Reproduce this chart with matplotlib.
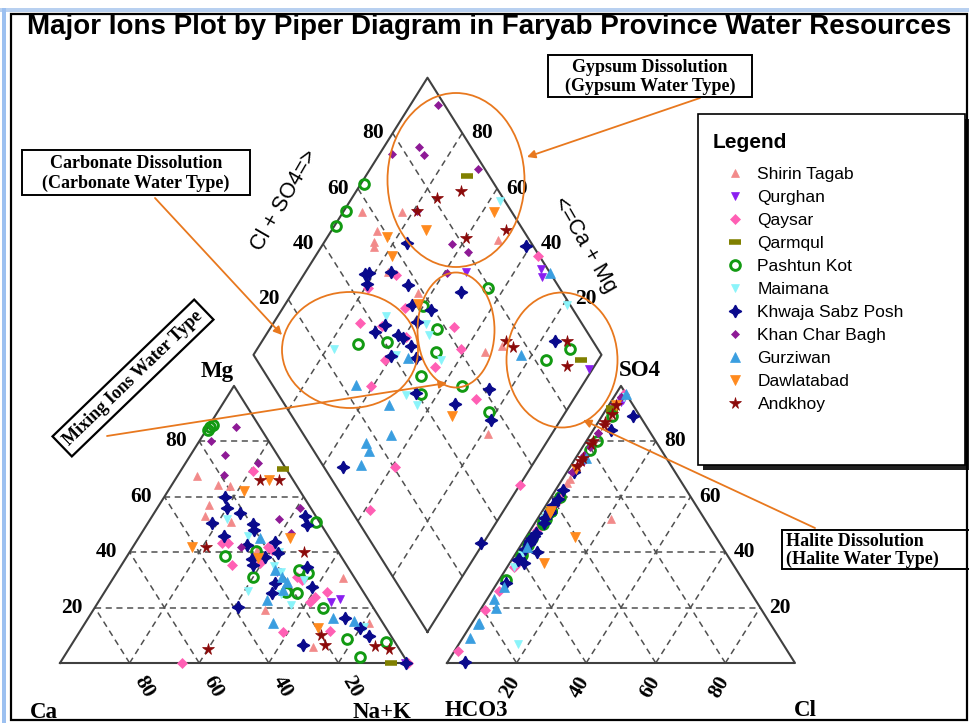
import matplotlib
matplotlib.use("Agg")
import matplotlib.pyplot as plt
import matplotlib.transforms as mtransforms
from matplotlib.patches import Ellipse, Rectangle
import numpy as np

# samples per site: (Mg, Na+K, SO4, Cl) in meq %, Ca and HCO3 are the rest
SHIRIN_TAGAB = [(67.5, 5.6, 55, 2), (64.3, 13.2, 56, 2), (63.9, 16.9, 66.5, 2), (57, 14.3, 53, 2),
                (53.1, 15.1, 52, 2), (50.9, 23.7, 51.5, 2), (40.8, 36.2, 56.5, 2), (19.1, 49.4, 89, 2),
                (30.7, 66, 65, 2), (14.4, 81.6, 51, 2), (5.8, 69.8, 52, 21)]
QURGHAN = [(33, 46, 73, 3), (22, 67, 95, 3), (23, 69, 94, 3), (0, 99, 92, 2)]
QAYSAR = [(69.3, 20.8, 43, 2), (43.3, 24.9, 34.5, 2), (43.3, 26.6, 53.5, 2), (35.4, 31.7, 40, 2),
          (0, 35.1, 50, 2), (41.9, 38.8, 35, 2), (36.1, 39.4, 26, 2), (40.8, 40.5, 45, 2),
          (31, 52.6, 60, 2.5), (30, 54.5, 48, 2), (11.2, 58.5, 58, 2.5), (22, 60.8, 19, 1.5),
          (23.8, 61.4, 4.5, 1), (25.6, 63.9, 97, 2.5), (11.6, 71.8, 54, 2), (0, 100, 51, 2)]
QARMQUL = [(70, 29, 92, 1.5), (0, 95, 91, 2)]
PASHTUN_KOT = [(86, 1, 60, 2.5), (84, 0.5, 50, 2.5), (85, 0.5, 45, 2), (51, 48, 55, 2.5),
               (38.6, 28, 30, 2), (40.4, 36, 38.5, 2), (31, 40, 55, 2.5), (33.6, 52, 51, 2),
               (32.5, 55, 39, 2), (25.6, 52, 42.5, 2), (25.3, 55.5, 77, 2.5), (20, 65.6, 52, 2.5),
               (8.7, 78, 55, 2.5), (7.6, 90, 89, 3), (2.2, 85, 80, 3)]
MAIMANA = [(40, 43, 96, 2.5), (13, 81, 96, 3), (46, 31, 43, 2), (35, 44, 53, 2), (33, 47, 52, 2),
           (26, 41, 39, 2), (30, 55, 51, 2), (52, 22, 7, 17), (25, 51, 34.5, 2), (21, 56, 36, 2)]
KHWAJA_SABZ_POSH = [(60, 17.5, 44.5, 2), (50.5, 18.5, 46, 2), (56, 20, 43.5, 2), (46, 24, 62.5, 2),
                    (54, 24.6, 52.5, 2), (50, 30.6, 37, 2), (48, 31.7, 55, 2), (42.6, 32.4, 41, 2),
                    (37.5, 36.4, 52.5, 2), (35.4, 37.8, 43, 2), (38.3, 39.8, 37.5, 2), (43.7, 39.9, 44, 2),
                    (20.2, 41, 50.5, 2.5), (39.7, 42.8, 57, 2), (53, 43.8, 45, 2), (49.8, 46.1, 0.5, 5),
                    (28.9, 47.3, 40, 6), (25.3, 48.3, 69, 2), (34.7, 53.6, 36, 4), (27.4, 58.7, 89, 9),
                    (6.5, 66.6, 47, 2), (16.2, 73.8, 59, 2.5), (12.6, 80, 54, 2.5), (9.7, 84, 84, 5),
                    (0, 99.5, 29, 2.5)]
KHAN_CHAR_BAGH = [(85, 8, 96, 2), (80, 3.5, 74, 2), (75, 10, 83, 2), (68, 13, 83, 2), (72, 21, 71, 2),
                  (42, 31, 96, 2), (52, 37, 75, 2), (47, 43, 78, 2), (56, 41, 69, 1.5)]
GURZIWAN = [(45.1, 35, 20, 4), (33.6, 45, 42, 2), (31, 48.3, 14.5, 2), (29.2, 50.6, 14, 2),
            (26.4, 50.9, 9, 2), (22.7, 48.1, 27.5, 2.5), (14.4, 54, 23, 2), (16.2, 70.3, 97, 3),
            (15.2, 76.9, 74, 3)]
DAWLATABAD = [(45, 43.5, 93, 2), (66, 27, 70, 2), (42, 17, 45.5, 14), (62, 22, 55, 2.5),
              (38, 38, 54, 2.5), (12.5, 68, 36, 10)]
ANDKHOY = [(66, 24.5, 79, 2), (66, 30, 87, 2), (42, 21, 71, 2), (40, 50, 93, 2), (5, 40, 80, 2),
           (10, 70, 73, 2), (6.5, 73, 74, 2), (6, 87.5, 90, 2.5), (5, 92, 86, 2)]

SITE_NAMES = ["Shirin Tagab", "Qurghan", "Qaysar", "Qarmqul", "Pashtun Kot", "Maimana",
              "Khwaja Sabz Posh", "Khan Char Bagh", "Gurziwan", "Dawlatabad", "Andkhoy"]
SITE_DATA = [SHIRIN_TAGAB, QURGHAN, QAYSAR, QARMQUL, PASHTUN_KOT, MAIMANA,
             KHWAJA_SABZ_POSH, KHAN_CHAR_BAGH, GURZIWAN, DAWLATABAD, ANDKHOY]
TICKS = [20, 40, 60, 80]

# marker, colour, size, filled, edge width
SITE_STYLES = [
    ("^", "#f28a8a", 5.5, True, 0.5),
    ("v", "#8a1ef0", 6, True, 0.5),
    ("D", "#ff5fb4", 5.5, True, 0.5),
    ("_", "#808000", 8.5, True, 4),
    ("o", "#129a12", 7, False, 2.1),
    ("v", "#8af4fa", 5.5, True, 0.5),
    ((4, 1, 0), "#0a0a8c", 9, True, 1.0),
    ("D", "#8e1a96", 4.5, True, 0.5),
    ("^", "#3a9ee0", 6.5, True, 0.5),
    ("v", "#ff8a1e", 6.5, True, 0.5),
    ("*", "#8b0a0a", 8.5, True, 0.5),
]

GAP = 0.112
H = np.sqrt(3) / 2
EDGE = "#404040"
GRID = dict(color="#505050", lw=1.1, ls=(0, (4, 3)), zorder=1)
ORANGE = "#e8781e"
SERIF = "Liberation Serif"
SANS = "Liberation Sans"


def to_piper(samples):
    mg, nak, so4, cl = (np.asarray(samples, dtype=float) / 100.0).T
    cat_x, cat_y = nak + mg / 2, H * mg
    an_x, an_y = 1 + GAP + cl + so4 / 2, H * so4
    dia_x, dia_y = diamond_xy(so4 + cl, 1 - nak)
    return np.concatenate([cat_x, an_x, dia_x]), np.concatenate([cat_y, an_y, dia_y])


def diamond_xy(a, c):
    a = np.asarray(a, dtype=float)
    c = np.asarray(c, dtype=float)
    return 1 + GAP / 2 + (a - c) / 2, H * GAP + H * (a + c)


def draw_triangle(ax, x0):
    ax.plot([x0, x0 + 1, x0 + 0.5, x0], [0, 0, H, 0], color=EDGE, lw=1.5, zorder=2)
    for t in np.array(TICKS) / 100:
        ax.plot([x0 + t / 2, x0 + 1 - t / 2], [H * t, H * t], **GRID)
        ax.plot([x0 + t, x0 + t + (1 - t) / 2], [0, H * (1 - t)], **GRID)
        ax.plot([x0 + t, x0 + t / 2], [0, H * t], **GRID)


def draw_diamond(ax):
    x, y = diamond_xy([0, 1, 1, 0, 0], [0, 0, 1, 1, 0])
    ax.plot(x, y, color=EDGE, lw=1.5, zorder=2)
    for t in np.array(TICKS) / 100:
        x, y = diamond_xy([t, t], [0, 1])
        ax.plot(x, y, **GRID)
        x, y = diamond_xy([0, 1], [t, t])
        ax.plot(x, y, **GRID)


fig = plt.figure(figsize=(9.7, 7.23), dpi=100)
ax = fig.add_axes([0, 0, 1, 1])
ax.set_xlim(-60 / 348, (970 - 60) / 348)
ax.set_ylim((663 - 723) / 320, 663 / 320)
ax.axis("off")
PIX = mtransforms.Affine2D().scale(1 / 970, -1 / 723).translate(0, 1) + fig.transFigure

draw_triangle(ax, 0)
draw_triangle(ax, 1 + GAP)
draw_diamond(ax)

num_font = dict(family=SERIF, weight="bold", size=15.5)
for t in TICKS:
    f = t / 100
    ax.text(f / 2 - 0.035, H * f, str(t), ha="right", va="center", **num_font)
    ax.text(f + 0.04, -0.075, str(100 - t), ha="center", va="center", rotation=-60, **num_font)
    ax.text(1 + GAP + f - 0.017, -0.075, str(t), ha="center", va="center", rotation=60, **num_font)
    ax.text(1 + GAP + 1 - f / 2 + 0.025, H * f, str(t), ha="left", va="center", **num_font)
    x, y = diamond_xy(f, 1)
    ax.text(x - 0.025, y, str(t), ha="right", va="center", **num_font)
    x, y = diamond_xy(1, f)
    ax.text(x + 0.025, y, str(t), ha="left", va="center", **num_font)

corner_font = dict(family=SERIF, weight="bold", size=16.5)
ax.text(217, 372, "Mg", transform=PIX, ha="center", va="center", **corner_font)
ax.text(44, 712, "Ca", transform=PIX, ha="center", va="center", **corner_font)
ax.text(382, 712, "Na+K", transform=PIX, ha="center", va="center", **corner_font)
ax.text(476, 711, "HCO3", transform=PIX, ha="center", va="center", **corner_font)
ax.text(805, 711, "Cl", transform=PIX, ha="center", va="center", **corner_font)
ax.text(640, 370, "SO4", transform=PIX, ha="center", va="center", **corner_font)
ax.text(284, 200, "Cl + SO4=>", transform=PIX, ha="center", va="center", rotation=60,
        family=SANS, size=15.5)
ax.text(585, 245, "<=Ca + Mg", transform=PIX, ha="center", va="center", rotation=-60,
        family=SANS, size=15.5)

handles = []
for name, samples, (marker, color, size, filled, mew) in zip(SITE_NAMES, SITE_DATA, SITE_STYLES):
    x, y = to_piper(samples)
    line, = ax.plot(x, y, ls="none", marker=marker, ms=size, color=color,
                    mfc=color if filled else "none", mec=color, mew=mew, label=name, zorder=3)
    handles.append(line)

# process ellipses and call-outs
for cx, cy, w, h in [(456, 180, 137, 174), (350, 350, 136, 116), (456, 330, 77, 115), (562, 360, 111, 135)]:
    ax.add_patch(Ellipse((cx, cy), w, h, transform=PIX, fill=False, ec=ORANGE, lw=1.3, zorder=4))

arrow_kw = dict(arrowstyle="-|>", color=ORANGE, lw=1.3, mutation_scale=12, shrinkA=0, shrinkB=0)
for start, tip in [((700, 98), (527, 157)), ((155, 198), (282, 335)),
                   ((107, 436), (447, 383)), ((815, 528), (583, 420))]:
    ax.annotate("", xy=tip, xytext=start, xycoords=PIX, textcoords=PIX, arrowprops=arrow_kw, zorder=4)

box_font = dict(family=SERIF, weight="bold", size=13)
for (x0, y0, x1, y1), lines in [((548, 55, 752, 97), ("Gypsum Dissolution", "(Gypsum Water Type)")),
                                ((22, 150, 250, 195), ("Carbonate Dissolution", "(Carbonate Water Type)")),
                                ((782, 530, 975, 569), ("Halite Dissolution", "(Halite Water Type)"))]:
    ax.add_patch(Rectangle((x0, y0), x1 - x0, y1 - y0, transform=PIX, fc="white", ec="black",
                           lw=1.4, zorder=5))
    xm = (x0 + x1) / 2 if x1 < 970 else x0 + 4
    ha = "center" if x1 < 970 else "left"
    ax.text(xm, y0 + (y1 - y0) * 0.29, lines[0], transform=PIX, ha=ha, va="center", zorder=6, **box_font)
    ax.text(xm, y0 + (y1 - y0) * 0.74, lines[1], transform=PIX, ha=ha, va="center", zorder=6, **box_font)

ax.text(133, 378, "Mixing Ions Water Type", transform=PIX, rotation=44, ha="center", va="center",
        zorder=6, bbox=dict(boxstyle="square,pad=0.3", fc="white", ec="black", lw=1.6), **box_font)

# legend panel with drop shadow
ax.add_patch(Rectangle((703, 119), 266, 351, transform=PIX, fc="#202020", ec="none", zorder=6))
ax.add_patch(Rectangle((698, 114), 267, 351, transform=PIX, fc="white", ec="black", lw=1.2, zorder=7))
ax.text(713, 142, "Legend", transform=PIX, ha="left", va="center", family=SANS, weight="bold",
        size=15, zorder=8)
leg = ax.legend(handles=handles, loc="upper left", bbox_to_anchor=(708, 155), bbox_transform=PIX,
                frameon=False, prop=dict(family=SANS, size=12.5), labelspacing=0.45,
                handlelength=1.7, handletextpad=0.45, borderpad=0.2, numpoints=1)
leg.set_zorder(8)

fig.text(27, 27, "Major Ions Plot by Piper Diagram in Faryab Province Water Resources",
         transform=PIX, ha="left", va="center", family=SANS, weight="bold", size=20)

# screenshot frame
fig.patches.append(Rectangle((11, 14), 956, 706, transform=PIX, fill=False, ec="black", lw=1.6))
fig.patches.append(Rectangle((0, 8), 970, 4, transform=PIX, fc="#b8d0f0", ec="none"))
fig.patches.append(Rectangle((2, 8), 4, 715, transform=PIX, fc="#9cc0f0", ec="none"))

fig.savefig("out.png", dpi=100)
